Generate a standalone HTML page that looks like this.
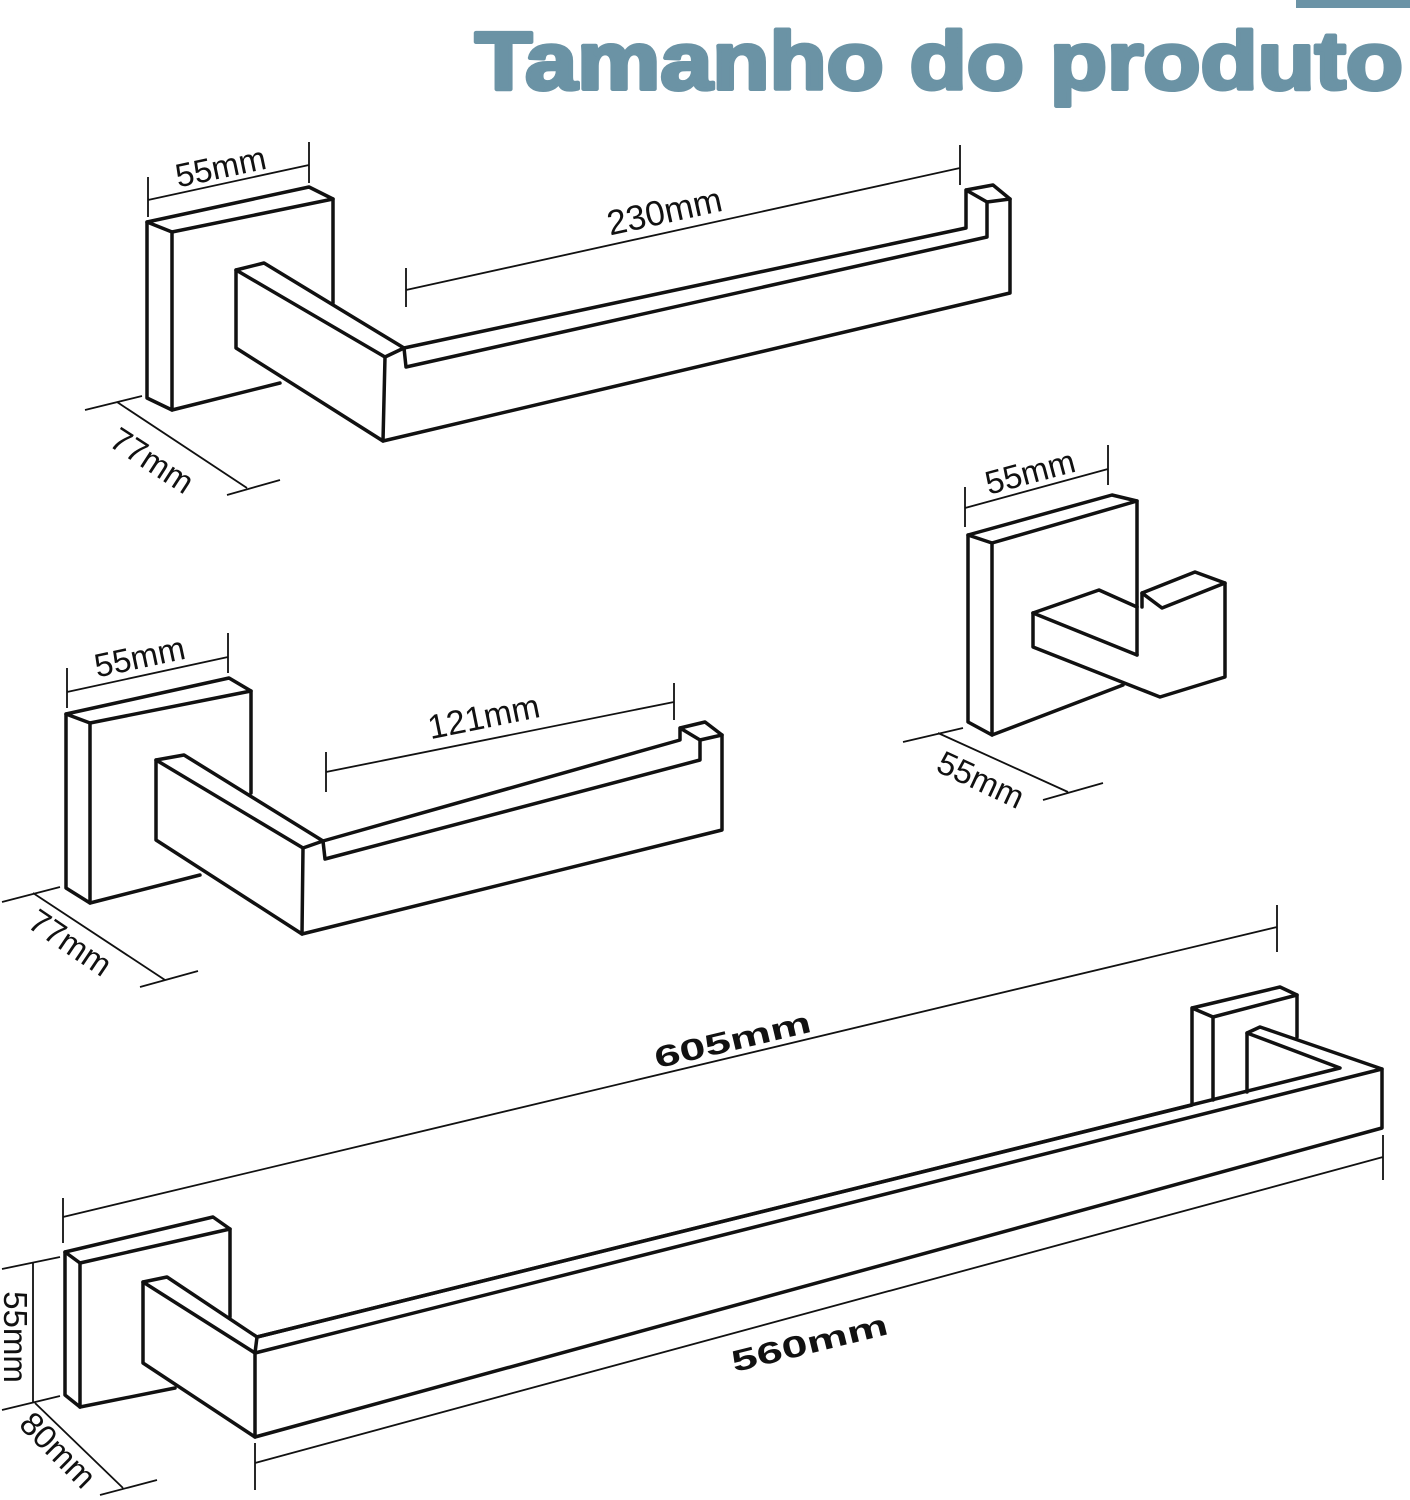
<!DOCTYPE html>
<html><head><meta charset="utf-8"><style>html,body{margin:0;padding:0;background:#fff}svg{display:block}</style></head>
<body>
<svg width="1410" height="1500" viewBox="0 0 1410 1500" xmlns="http://www.w3.org/2000/svg">
<rect x="1296" y="0" width="114" height="8" fill="#6b93a6"/>
<text x="475" y="89" font-family="Liberation Sans, sans-serif" font-weight="bold" font-size="82" fill="#6b93a5" stroke="#6b93a5" stroke-width="4" stroke-linejoin="round" textLength="928" lengthAdjust="spacingAndGlyphs">Tamanho do produto</text>

<g fill="none" stroke="#111" stroke-width="3.5" stroke-linejoin="round" stroke-linecap="round">
<path d="M147,222 L309,187 L333,199 L172,232 Z"/>
<path d="M147,222 L147,398 L172,410 L172,232"/>
<path d="M172,410 L280,383"/>
<path d="M333,199 L333,303"/>
<path d="M236,270 L264,263 L404,348 L385,357 Z"/>
<path d="M236,270 L236,348 L383,441 L385,357"/>
<path d="M404,348 L966,228 L966,190 L993,185 L1010,199 L987,202 L966,190"/>
<path d="M404,348 L406,367 L987,237 L987,202"/>
<path d="M1010,199 L1010,293 L383,441"/>
<path d="M66,714 L229,678 L251,691 L90,723 Z"/>
<path d="M66,714 L66,888 L90,903 L90,723"/>
<path d="M90,903 L200,875"/>
<path d="M251,691 L251,793"/>
<path d="M156,760 L184,755 L323,841 L303,848 Z"/>
<path d="M156,760 L156,840 L302,934 L303,848"/>
<path d="M323,841 L680,740 L680,728 L705,722 L722,735 L700,740 L680,728"/>
<path d="M323,841 L325,859 L700,760 L700,740"/>
<path d="M722,735 L722,830 L302,934"/>
<path d="M968,535 L1112,495 L1137,501 L992,543 Z"/>
<path d="M968,535 L968,722 L992,735 L992,543"/>
<path d="M992,735 L1123,685"/>
<path d="M1137,501 L1137,655"/>
<path d="M1033,613 L1099,590 L1137,607"/>
<path d="M1033,613 L1137,655"/>
<path d="M1033,613 L1033,647 L1160,697 L1225,677 L1225,583 L1195,572 L1142,593 L1142,607"/>
<path d="M1142,593 L1162,608 L1225,583"/>
<path d="M65,1252 L213,1217 L230,1229 L80,1263 Z"/>
<path d="M65,1252 L65,1395 L80,1407 L80,1263"/>
<path d="M80,1407 L175,1388"/>
<path d="M230,1229 L230,1317"/>
<path d="M143,1282 L167,1277 L257,1337 L255,1353 Z"/>
<path d="M143,1282 L143,1363 L255,1437 L255,1353"/>
<path d="M257,1337 L1192,1105 L1192,1008 L1280,987 L1297,995 L1213,1017 L1192,1008"/>
<path d="M1213,1017 L1213,1100"/>
<path d="M1297,995 L1297,1037"/>
<path d="M1247,1092 L1247,1033 L1260,1027 L1382,1069 L255,1353"/>
<path d="M1247,1033 L1340,1068 L257,1337"/>
<path d="M1382,1069 L1382,1128 L255,1437"/>
</g>

<g fill="none" stroke="#111" stroke-width="1.8">
<path d="M148,177 L148,217 M309,142 L309,183 M148,200 L309,165"/>
<path d="M406,268 L406,307 M960,145 L960,185 M406,290 L960,168"/>
<path d="M85,410 L142,396 M227,495 L280,480 M117,402 L247,488"/>
<path d="M67,668 L67,708 M228,633 L228,673 M67,692 L228,657"/>
<path d="M326,752 L326,792 M674,683 L674,720 M326,772 L674,702"/>
<path d="M2,902 L60,887 M140,987 L198,971 M33,893 L165,980"/>
<path d="M965,487 L965,527 M1108,445 L1108,485 M965,508 L1108,469"/>
<path d="M903,742 L963,728 M1043,800 L1103,783 M938,733 L1068,792"/>
<path d="M63,1198 L63,1243 M1277,905 L1277,952 M63,1217 L1277,927"/>
<path d="M255,1443 L255,1490 M1383,1135 L1383,1180 M255,1463 L1383,1157"/>
<path d="M2,1269 L60,1257 M2,1410 L60,1396 M33,1263 L33,1402"/>
<path d="M35,1403 L123,1488 M100,1495 L157,1480"/>
</g>

<g font-family="Liberation Sans, sans-serif" font-size="33" fill="#111" text-anchor="middle">
<text transform="translate(223,178) rotate(-12)">55mm</text>
<text transform="translate(667,223) rotate(-12.4)" font-size="35">230mm</text>
<text transform="translate(146,470) rotate(33)">77mm</text>
<text transform="translate(142,668) rotate(-12)">55mm</text>
<text transform="translate(486,728) rotate(-11.5)" font-size="34">121mm</text>
<text transform="translate(64,952) rotate(34)">77mm</text>
<text transform="translate(1033,483) rotate(-15)">55mm</text>
<text transform="translate(976,790) rotate(25)">55mm</text>
<text transform="translate(735,1050) rotate(-13.4)" font-weight="bold" font-size="30" textLength="160" lengthAdjust="spacingAndGlyphs">605mm</text>
<text transform="translate(812,1353) rotate(-13.9)" font-weight="bold" font-size="30" textLength="160" lengthAdjust="spacingAndGlyphs">560mm</text>
<text transform="translate(4,1337) rotate(90)">55mm</text>
<text transform="translate(50,1458) rotate(45)">80mm</text>
</g>
</svg>
</body></html>
